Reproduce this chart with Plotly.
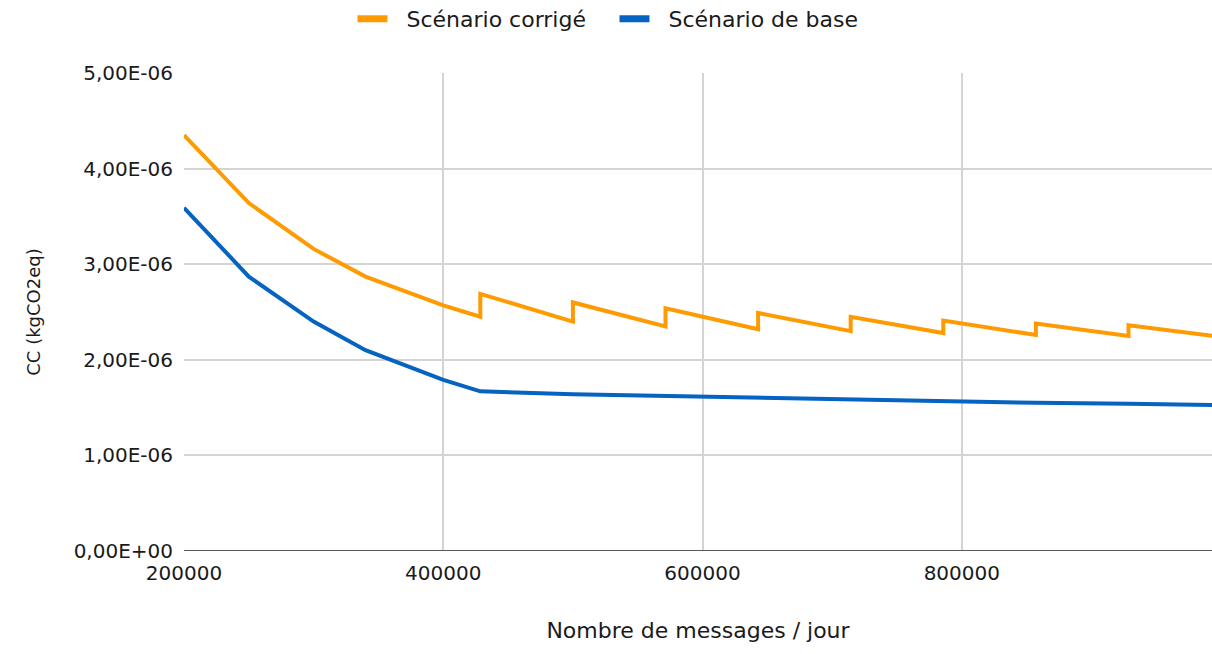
import plotly.graph_objects as go

# Data
x_corrige = [200000, 250000, 300000, 340000, 400000, 428571, 428571, 500000, 500000,
             571429, 571429, 642857, 642857, 714286, 714286, 785714, 785714,
             857143, 857143, 928571, 928571, 1000000]
y_corrige = [4.35e-6, 3.64e-6, 3.16e-6, 2.87e-6, 2.57e-6, 2.45e-6, 2.69e-6, 2.40e-6, 2.60e-6,
             2.35e-6, 2.54e-6, 2.32e-6, 2.49e-6, 2.30e-6, 2.45e-6, 2.28e-6, 2.41e-6,
             2.26e-6, 2.38e-6, 2.25e-6, 2.36e-6, 2.24e-6]

x_base = [200000, 250000, 300000, 340000, 400000, 428571, 500000, 571429, 642857,
          714286, 785714, 857143, 928571, 1000000]
y_base = [3.59e-6, 2.87e-6, 2.40e-6, 2.10e-6, 1.79e-6, 1.67e-6, 1.64e-6, 1.62e-6, 1.60e-6,
          1.58e-6, 1.565e-6, 1.55e-6, 1.54e-6, 1.525e-6]

y_tickvals = [0, 1e-6, 2e-6, 3e-6, 4e-6, 5e-6]
y_ticktext = ["0,00E+00", "1,00E-06", "2,00E-06", "3,00E-06", "4,00E-06", "5,00E-06"]
x_tickvals = [200000, 400000, 600000, 800000]
x_ticktext = ["200000", "400000", "600000", "800000"]
series_names = ["Scénario corrigé", "Scénario de base"]

ORANGE = "#FF9A00"
BLUE = "#0563C1"
FONT = "DejaVu Sans"
TXT = "#1a1a1a"
PAD = "\u00a0\u00a0"

fig = go.Figure()
fig.add_trace(go.Scatter(x=x_base, y=y_base, mode="lines",
                         line=dict(color=BLUE, width=4), showlegend=False))
fig.add_trace(go.Scatter(x=x_corrige, y=y_corrige, mode="lines",
                         line=dict(color=ORANGE, width=4), showlegend=False))
# legend entries (thick short bars)
fig.add_trace(go.Scatter(x=[None], y=[None], mode="lines", name=PAD + series_names[0],
                         line=dict(color=ORANGE, width=7)))
fig.add_trace(go.Scatter(x=[None], y=[None], mode="lines", name=PAD + series_names[1],
                         line=dict(color=BLUE, width=7)))

fig.update_layout(
    width=1212, height=654,
    margin=dict(l=184, r=0, t=73, b=103),
    paper_bgcolor="white", plot_bgcolor="white",
    font=dict(family=FONT, size=20, color=TXT),
    legend=dict(orientation="h", xref="container", yref="container",
                x=0.507, y=0.971, xanchor="center", yanchor="middle",
                font=dict(size=22), tracegroupgap=0,
                entrywidth=217, entrywidthmode="pixels"),
    xaxis=dict(range=[200000, 993000], tickmode="array", tickvals=x_tickvals,
               ticktext=x_ticktext, showgrid=True, gridcolor="#d4d4d4", gridwidth=2,
               zeroline=False, showline=False, ticks="", ticklabelstandoff=8,
               tickfont=dict(size=20),
               title=dict(text="Nombre de messages / jour", font=dict(size=22), standoff=38)),
    yaxis=dict(range=[0, 5e-6], tickmode="array", tickvals=y_tickvals, ticktext=y_ticktext,
               showgrid=True, gridcolor="#d4d4d4", gridwidth=2, zeroline=False,
               showline=False, ticks="", ticklabelstandoff=10,
               tickfont=dict(size=20),
               title=dict(text="CC (kgCO2eq)", font=dict(size=18), standoff=28)),
)
# bottom axis line
fig.add_shape(type="line", xref="paper", yref="y", x0=0, x1=1, y0=0, y1=0,
              line=dict(color="#595959", width=2))

fig.write_html("out.html", config={"responsive": False, "displayModeBar": False},
               post_script="document.body.style.margin='0';document.body.style.overflow='hidden';")
